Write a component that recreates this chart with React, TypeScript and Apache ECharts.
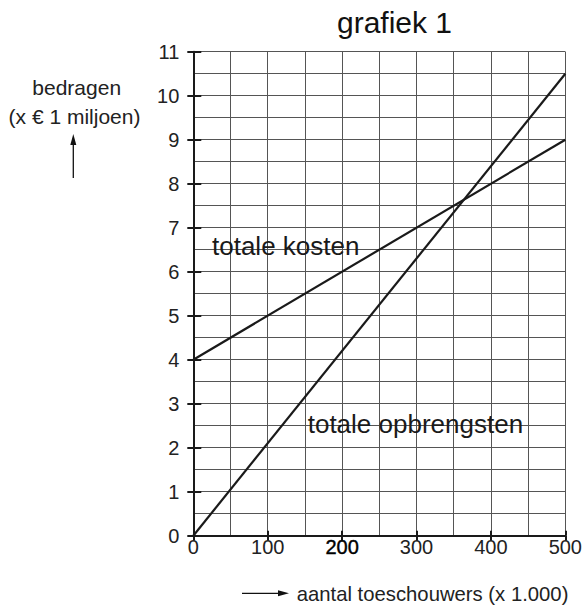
import React, { useEffect, useRef } from "react";
import * as echarts from "echarts";

const title = "grafiek 1";
const xTicks = [0, 100, 200, 300, 400, 500];
const yTicks = [0, 1, 2, 3, 4, 5, 6, 7, 8, 9, 10, 11];
const kostenX = [0, 500];
const kostenY = [4, 9];
const opbrengstenX = [0, 500];
const opbrengstenY = [0, 10.5];
const kostenLabel = "totale kosten";
const opbrengstenLabel = "totale opbrengsten";
const yName1 = "bedragen";
const yName2 = "(x € 1 miljoen)";
const xName = "aantal toeschouwers (x 1.000)";

const FONT = "'Liberation Sans', Arial, Helvetica, sans-serif";
const TXT = "#222";

export default function App() {
  const ref = useRef<HTMLDivElement>(null);
  useEffect(() => {
    if (!ref.current) return;
    const chart = echarts.init(ref.current, undefined, { renderer: "svg" });
    const grid = { left: 193.3, right: 15, top: 51.7, bottom: 72.3 };
    const xMin = xTicks[0];
    const xMax = xTicks[xTicks.length - 1];
    const yMin = yTicks[0];
    const yMax = yTicks[yTicks.length - 1];
    const baseX = {
      type: "value",
      min: xMin,
      max: xMax,
      interval: 100,
    };
    const baseY = {
      type: "value",
      min: yMin,
      max: yMax,
      interval: 1,
    };
    chart.setOption({
      animation: false,
      backgroundColor: "#fff",
      grid,
      xAxis: [
        {
          ...baseX,
          axisLine: { show: true, lineStyle: { color: "#1a1a1a", width: 2 } },
          axisTick: { show: true, length: 5, lineStyle: { color: "#1a1a1a", width: 2 } },
          axisLabel: {
            margin: 1,
            fontFamily: FONT,
            fontSize: 20,
            color: TXT,
            formatter: (v: number) => (v === 200 ? "{b|200}" : String(v)),
            rich: { b: { fontFamily: FONT, fontSize: 20, color: "#000", textBorderColor: "#000", textBorderWidth: 0.4 } },
          },
          splitLine: { show: true, lineStyle: { color: "#555", width: 1 } },
          minorTick: { show: false, splitNumber: 2 },
          minorSplitLine: { show: true, lineStyle: { color: "#555", width: 1 } },
        },
        {
          ...baseX,
          position: "bottom",
          axisLine: { show: false },
          axisTick: { show: true, inside: true, length: 5, lineStyle: { color: "#1a1a1a", width: 2 } },
          axisLabel: { show: false },
          splitLine: { show: false },
        },
      ],
      yAxis: [
        {
          ...baseY,
          axisLine: { show: true, lineStyle: { color: "#1a1a1a", width: 2 } },
          axisTick: { show: true, length: 6, lineStyle: { color: "#1a1a1a", width: 2 } },
          axisLabel: { margin: 14, fontFamily: FONT, fontSize: 20, color: TXT },
          splitLine: { show: true, lineStyle: { color: "#555", width: 1 } },
          minorTick: { show: false, splitNumber: 2 },
          minorSplitLine: { show: true, lineStyle: { color: "#555", width: 1 } },
        },
        {
          ...baseY,
          position: "left",
          axisLine: { show: false },
          axisTick: { show: true, inside: true, length: 8, lineStyle: { color: "#1a1a1a", width: 2 } },
          axisLabel: { show: false },
          splitLine: { show: false },
        },
      ],
      series: [
        {
          type: "line",
          data: kostenX.map((x, i) => [x, kostenY[i]]),
          symbol: "none",
          lineStyle: { color: "#1a1a1a", width: 2.2 },
          z: 5,
        },
        {
          type: "line",
          data: opbrengstenX.map((x, i) => [x, opbrengstenY[i]]),
          symbol: "none",
          lineStyle: { color: "#1a1a1a", width: 2.2 },
          z: 5,
        },
      ],
      graphic: [
        {
          type: "text",
          x: 394.5,
          y: 22,
          style: { text: title, fontFamily: FONT, fontSize: 30, fill: "#111", align: "center", verticalAlign: "middle" },
        },
        {
          type: "text",
          x: 76.7,
          y: 87,
          style: { text: yName1, fontFamily: FONT, fontSize: 21, fill: TXT, align: "center", verticalAlign: "middle" },
        },
        {
          type: "text",
          x: 74.5,
          y: 116,
          style: { text: yName2, fontFamily: FONT, fontSize: 21, fill: TXT, align: "center", verticalAlign: "middle" },
        },
        {
          type: "line",
          shape: { x1: 73.3, y1: 178, x2: 73.3, y2: 142 },
          style: { stroke: "#111", lineWidth: 1.3 },
        },
        {
          type: "polygon",
          shape: { points: [[73.3, 134], [70.3, 145], [76.3, 145]] },
          style: { fill: "#111" },
        },
        {
          type: "line",
          shape: { x1: 242, y1: 593.3, x2: 281, y2: 593.3 },
          style: { stroke: "#111", lineWidth: 1.3 },
        },
        {
          type: "polygon",
          shape: { points: [[289, 593.3], [278, 590.3], [278, 596.3]] },
          style: { fill: "#111" },
        },
        {
          type: "text",
          x: 296.7,
          y: 594,
          style: { text: xName, fontFamily: FONT, fontSize: 20.3, fill: TXT, align: "left", verticalAlign: "middle" },
        },
        {
          type: "text",
          x: 212,
          y: 246,
          z: 10,
          style: { text: kostenLabel, fontFamily: FONT, fontSize: 26, fill: "#1a1a1a", align: "left", verticalAlign: "middle" },
        },
        {
          type: "text",
          x: 307.7,
          y: 424,
          z: 10,
          style: { text: opbrengstenLabel, fontFamily: FONT, fontSize: 26, fill: "#1a1a1a", align: "left", verticalAlign: "middle" },
        },
      ],
    });
    return () => chart.dispose();
  }, []);
  return (
    <div
      ref={ref}
      style={{ position: "fixed", left: 0, top: 0, width: 585, height: 608, background: "#fff" }}
    />
  );
}
